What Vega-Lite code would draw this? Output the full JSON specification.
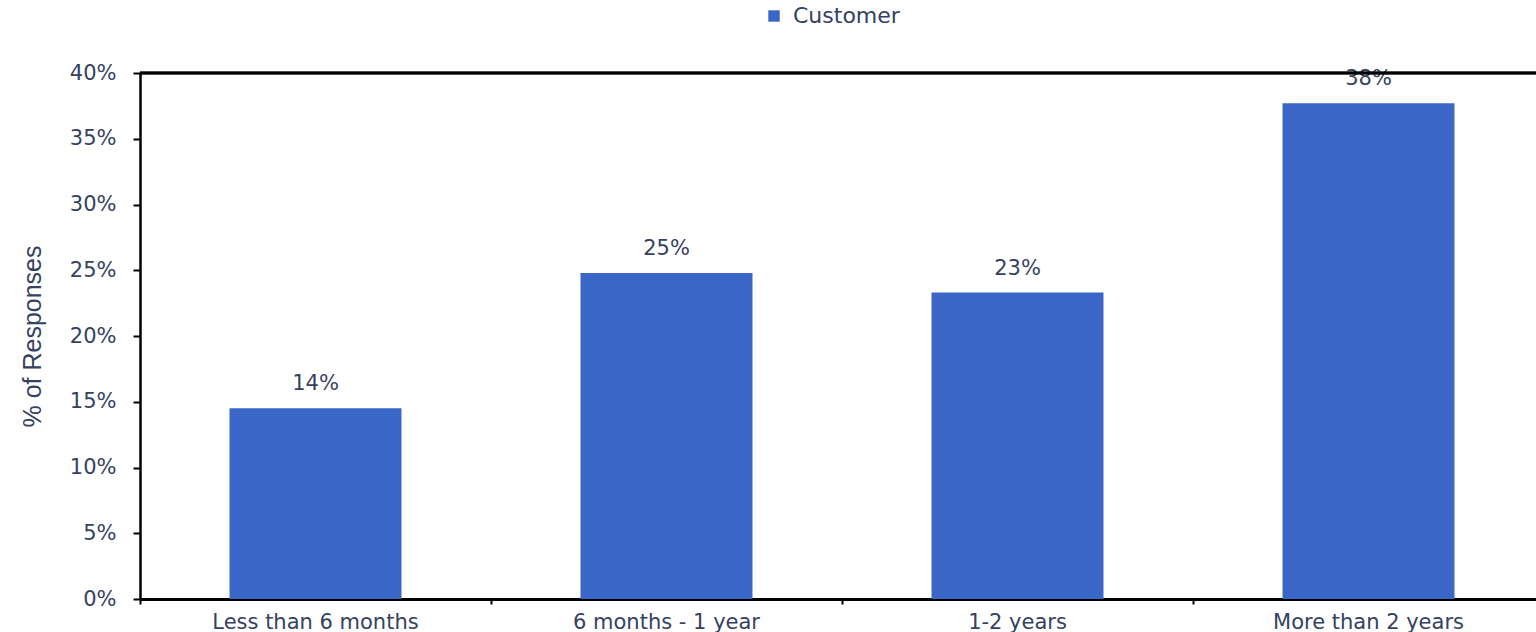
{
  "$schema": "https://vega.github.io/schema/vega-lite/v6.json",
  "width": 1396,
  "height": 526,
  "autosize": {"type": "none"},
  "padding": {"left": 140, "top": 73, "right": 0, "bottom": 33},
  "background": "white",
  "config": {
    "view": {"stroke": null},
    "font": "DejaVu Sans"
  },
  "data": {
    "values": [
      {"period": "Less than 6 months", "share": 0.145, "label": "14%", "series": "Customer"},
      {"period": "6 months - 1 year", "share": 0.248, "label": "25%", "series": "Customer"},
      {"period": "1-2 years", "share": 0.233, "label": "23%", "series": "Customer"},
      {"period": "More than 2 years", "share": 0.377, "label": "38%", "series": "Customer"}
    ]
  },
  "encoding": {
    "x": {
      "field": "period",
      "type": "nominal",
      "sort": null,
      "scale": {"range": [0, 1404], "paddingInner": 0, "paddingOuter": 0},
      "axis": {
        "title": null,
        "labelAngle": 0,
        "labelFont": "DejaVu Sans",
        "labelFontSize": 21,
        "labelColor": "#34425f",
        "labelPadding": 7,
        "labelLimit": 0,
        "domainColor": "black",
        "domainWidth": 3,
        "tickColor": "black",
        "tickWidth": 2,
        "tickSize": 5,
        "bandPosition": 0,
        "labelOverlap": false
      }
    },
    "y": {
      "field": "share",
      "type": "quantitative",
      "scale": {"domain": [0, 0.4], "nice": false},
      "axis": {
        "title": "% of Responses",
        "titleFont": "Liberation Sans",
        "titleFontSize": 25,
        "titleFontWeight": "normal",
        "titleColor": "#34425f",
        "titlePadding": 24,
        "format": ".0%",
        "values": [0, 0.05, 0.1, 0.15, 0.2, 0.25, 0.3, 0.35, 0.4],
        "labelFont": "DejaVu Sans",
        "labelFontSize": 21,
        "labelColor": "#34425f",
        "labelPadding": 17,
        "domainColor": "black",
        "domainWidth": 2.5,
        "tickColor": "black",
        "tickWidth": 2,
        "tickSize": 7,
        "grid": false
      }
    }
  },
  "layer": [
    {
      "mark": {"type": "bar", "width": {"band": 0.49}},
      "encoding": {
        "color": {
          "field": "series",
          "type": "nominal",
          "scale": {"range": ["#3a66c8"]},
          "legend": {
            "orient": "none",
            "legendX": 623,
            "legendY": -68,
            "direction": "horizontal",
            "title": null,
            "symbolType": "square",
            "symbolSize": 130,
            "symbolStrokeWidth": 0,
            "labelFont": "DejaVu Sans",
            "labelFontSize": 22,
            "labelColor": "#34425f",
            "labelOffset": 8
          }
        }
      }
    },
    {
      "mark": {"type": "text", "baseline": "alphabetic", "dy": -18, "fontSize": 21, "font": "DejaVu Sans", "color": "#34425f"},
      "encoding": {"text": {"field": "label"}}
    },
    {
      "mark": {"type": "rule", "color": "black", "strokeWidth": 2.5},
      "encoding": {"y": {"datum": 0.4}, "x": null}
    }
  ]
}
